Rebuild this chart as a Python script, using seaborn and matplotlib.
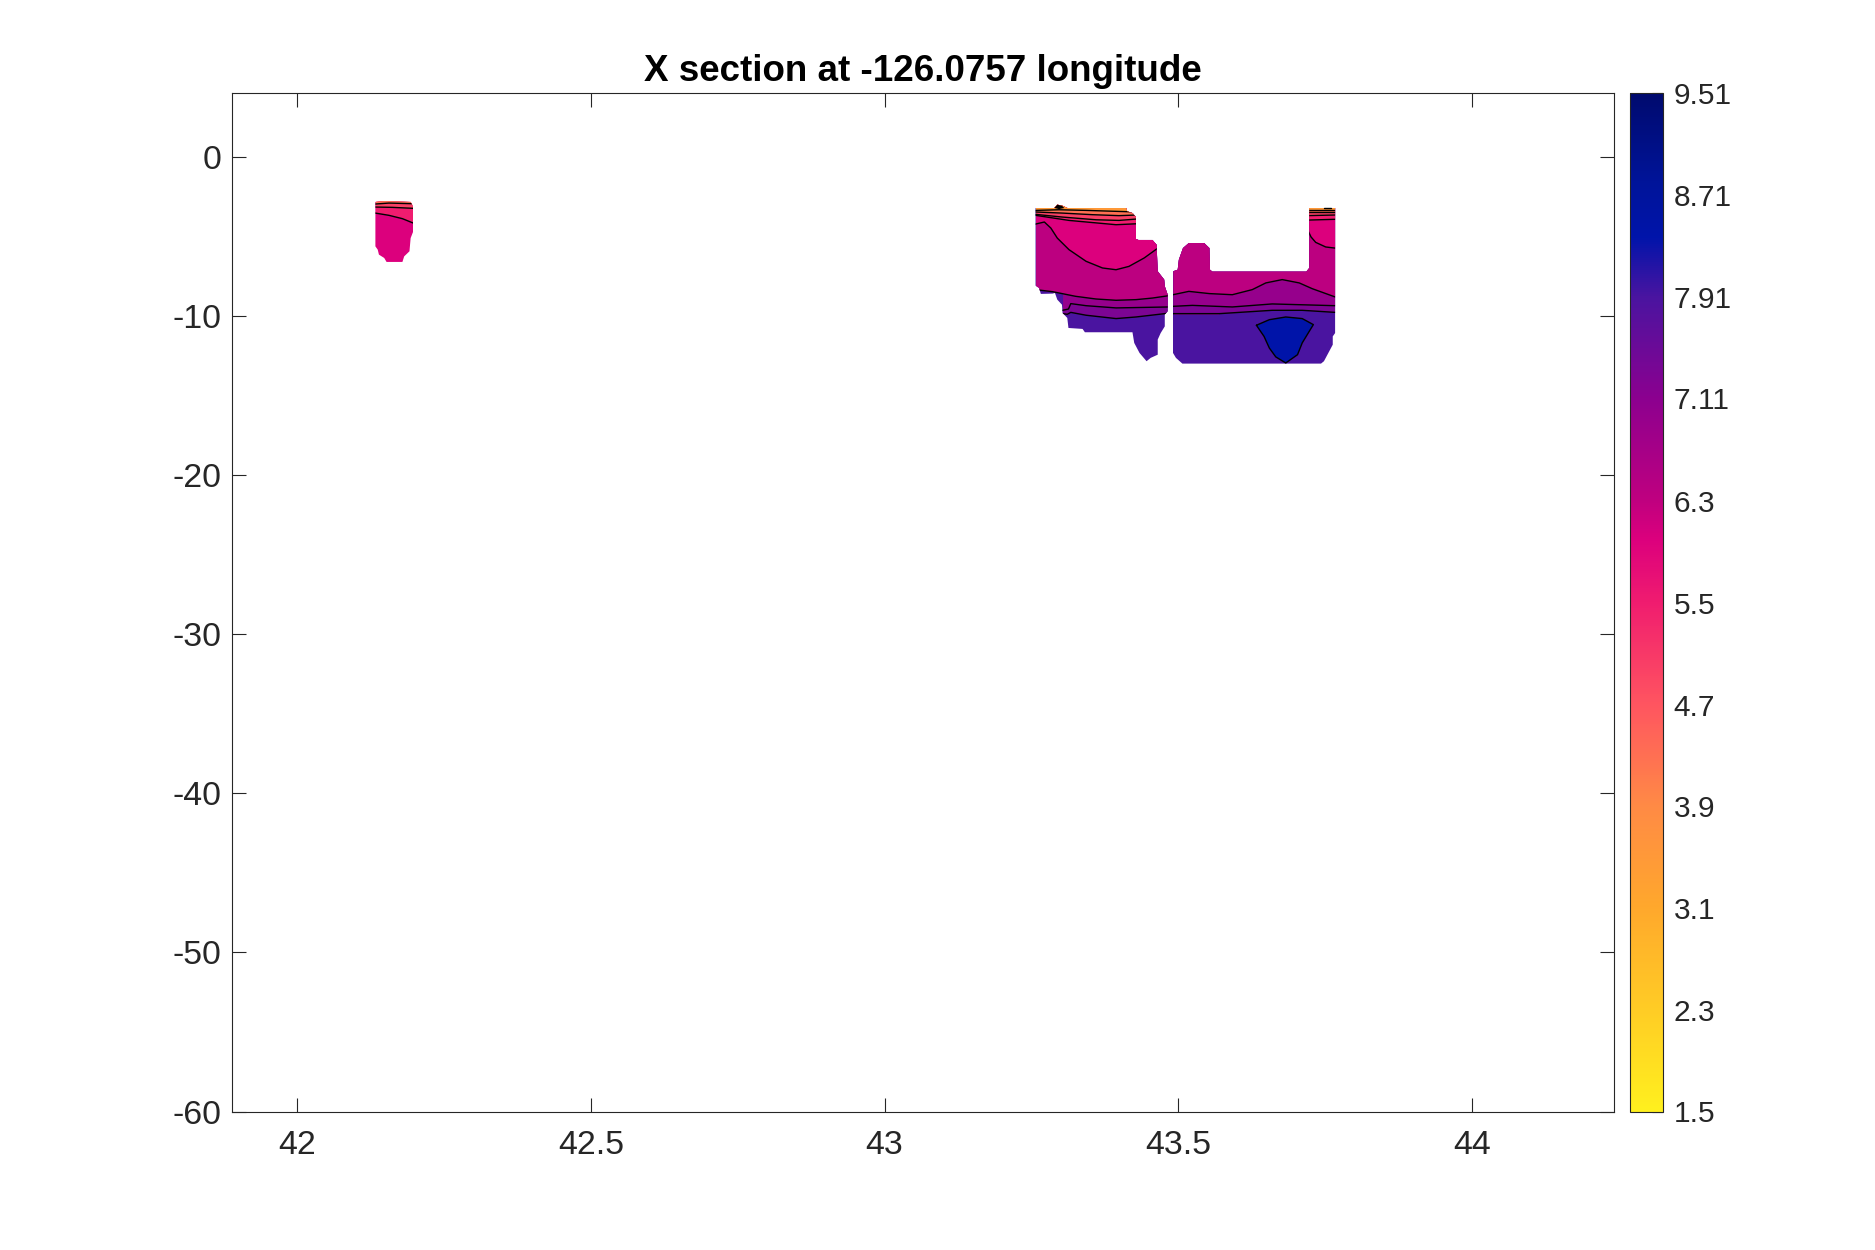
import matplotlib
matplotlib.use('Agg')
import matplotlib.pyplot as plt
import seaborn as sns
from matplotlib.cm import ScalarMappable
from matplotlib.colors import LinearSegmentedColormap, Normalize
from matplotlib.patches import Polygon

# colour scale
scale_values = [1.5, 3.1, 3.9, 4.7, 5.5, 6.0, 6.3, 7.11, 7.91, 8.38, 8.8, 9.51]
scale_colors = ['#FFF01E', '#FFA82C', '#FF8A45', '#FF5560', '#F01C6F', '#DC007D',
                '#C0007F', '#8C008F', '#4A14A0', '#0014AA', '#00149A', '#000A6E']
cbar_ticks = [1.5, 2.3, 3.1, 3.9, 4.7, 5.5, 6.3, 7.11, 7.91, 8.71, 9.51]
cbar_labels = ['1.5', '2.3', '3.1', '3.9', '4.7', '5.5', '6.3', '7.11', '7.91', '8.71', '9.51']

# outlines of the three patches (latitude, depth)
north_lat = [42.133, 42.148, 42.193, 42.197, 42.197, 42.193, 42.191, 42.182, 42.179,
             42.152, 42.148, 42.139, 42.137, 42.133]
north_depth = [-2.83, -2.77, -2.83, -3.11, -4.72, -5.10, -5.93, -6.25, -6.60,
               -6.60, -6.35, -6.14, -5.83, -5.62]

mid_lat = [43.257, 43.289, 43.294, 43.303, 43.311, 43.411, 43.413, 43.422, 43.428, 43.428,
           43.432, 43.456, 43.463, 43.465, 43.476, 43.477, 43.482, 43.482, 43.477, 43.477,
           43.470, 43.465, 43.465, 43.453, 43.446, 43.434, 43.425, 43.422, 43.341, 43.337,
           43.313, 43.311, 43.303, 43.302, 43.294, 43.290, 43.286, 43.266, 43.263, 43.257]
mid_depth = [-3.21, -3.21, -3.00, -3.07, -3.21, -3.21, -3.42, -3.53, -3.78, -5.16,
             -5.22, -5.22, -5.52, -7.19, -7.71, -8.13, -8.66, -9.70, -9.91, -10.65,
             -11.07, -11.48, -12.43, -12.63, -12.84, -12.32, -11.69, -11.02, -11.02, -10.81,
             -10.75, -10.12, -9.81, -9.29, -8.97, -8.55, -8.59, -8.61, -8.24, -8.09]

south_lat = [43.491, 43.499, 43.501, 43.508, 43.518, 43.544, 43.553, 43.554, 43.558, 43.718,
             43.723, 43.723, 43.767, 43.767, 43.763, 43.763, 43.748, 43.743, 43.507, 43.496, 43.491]
south_depth = [-7.19, -7.09, -6.46, -5.73, -5.41, -5.41, -5.73, -7.09, -7.21, -7.21,
               -6.98, -3.21, -3.21, -11.07, -11.28, -11.80, -12.84, -12.99, -12.99, -12.63, -12.32]

# contour lines, deepest first, with the value of the band just above each one
north_base = 6.0
north_bands = [5.5, 5.0, 4.3]
north_lines = [
    ([42.133, 42.156, 42.179, 42.197], [-3.53, -3.67, -3.88, -4.15]),
    ([42.133, 42.162, 42.197], [-3.15, -3.17, -3.23]),
    ([42.133, 42.156, 42.197], [-2.96, -2.90, -2.94]),
]

mid_base = 7.9
mid_bands = [7.3, 6.95, 6.35, 6.0, 5.5, 5.0, 4.3, 3.5]
mid_lines = [
    ([43.303, 43.311, 43.317, 43.343, 43.394, 43.428, 43.477, 43.484],
     [-9.85, -9.89, -9.77, -9.95, -10.16, -10.06, -9.85, -9.81]),
    ([43.303, 43.313, 43.317, 43.343, 43.394, 43.484], [-9.64, -9.56, -9.22, -9.35, -9.49, -9.43]),
    ([43.257, 43.286, 43.325, 43.360, 43.394, 43.428, 43.456, 43.484],
     [-8.34, -8.47, -8.76, -8.93, -9.01, -8.97, -8.87, -8.72]),
    ([43.257, 43.272, 43.283, 43.294, 43.314, 43.343, 43.371, 43.394, 43.416, 43.442, 43.463, 43.484],
     [-4.22, -4.09, -4.47, -5.10, -5.83, -6.56, -6.98, -7.09, -6.88, -6.35, -5.79, -5.30]),
    ([43.257, 43.314, 43.394, 43.430], [-3.67, -3.99, -4.26, -4.20]),
    ([43.257, 43.303, 43.360, 43.399, 43.430], [-3.61, -3.78, -3.95, -3.99, -3.90]),
    ([43.257, 43.303, 43.354, 43.399, 43.430], [-3.46, -3.53, -3.63, -3.69, -3.65]),
    ([43.257, 43.297, 43.343, 43.377, 43.430], [-3.36, -3.32, -3.36, -3.40, -3.46]),
]

south_base = 7.9
south_bands = [7.3, 6.95, 6.35, 6.0, 5.5, 5.0, 4.3, 3.5]
south_lines = [
    ([43.491, 43.570, 43.660, 43.711, 43.767], [-9.85, -9.85, -9.64, -9.64, -9.77]),
    ([43.491, 43.524, 43.592, 43.660, 43.767], [-9.39, -9.33, -9.43, -9.24, -9.35]),
    ([43.491, 43.518, 43.553, 43.592, 43.626, 43.649, 43.677, 43.706, 43.728, 43.767],
     [-8.66, -8.45, -8.59, -8.66, -8.34, -7.92, -7.71, -7.92, -8.28, -8.80]),
    ([43.720, 43.726, 43.734, 43.751, 43.767], [-4.57, -5.03, -5.37, -5.66, -5.73]),
    ([43.720, 43.767], [-3.97, -3.92]),
    ([43.720, 43.767], [-3.69, -3.65]),
    ([43.720, 43.767], [-3.46, -3.46]),
    ([43.720, 43.767], [-3.32, -3.32]),
]

# closed high value area and the tight contours near the surface
core_value = 8.4
core_lat = [43.633, 43.655, 43.683, 43.711, 43.730, 43.723, 43.711, 43.703, 43.683, 43.666, 43.655, 43.646]
core_depth = [-10.58, -10.23, -10.06, -10.16, -10.54, -10.96, -11.69, -12.43, -12.95, -12.57, -12.01, -11.28]
knot_lat = [43.289, 43.294, 43.302, 43.306, 43.297]
knot_depth = [-3.21, -3.00, -3.07, -3.21, -3.28]
dash_lat = [43.748, 43.760]
dash_depth = [-3.21, -3.21]

xticks = [42, 42.5, 43, 43.5, 44]
xtick_labels = ['42', '42.5', '43', '43.5', '44']
yticks = [-60, -50, -40, -30, -20, -10, 0]

W, H = 1875, 1250
INK = '#262626'

norm = Normalize(scale_values[0], scale_values[-1])
cmap = LinearSegmentedColormap.from_list(
    'section', [(norm(v), c) for v, c in zip(scale_values, scale_colors)], N=512)


def draw_line(ax, lat, depth, clip=None):
    sns.lineplot(x=lat, y=depth, sort=False, estimator=None, color='black',
                 linewidth=1.0, ax=ax, zorder=4)
    if clip is not None:
        ax.lines[-1].set_clip_path(clip)


def draw_patch(ax, lat, depth, base, bands, lines):
    # base colour first, then each band painted upward from its contour line
    clip = Polygon(list(zip(lat, depth)), closed=True, facecolor=cmap(norm(base)),
                   edgecolor='none', zorder=2)
    ax.add_patch(clip)
    for value, (line_lat, line_depth) in zip(bands, lines):
        band = ax.fill_between(line_lat, line_depth, 0, color=cmap(norm(value)),
                               linewidth=0, zorder=3)
        band.set_clip_path(clip)
    for line_lat, line_depth in lines:
        draw_line(ax, line_lat, line_depth, clip)


sns.set_theme(style='ticks')
plt.rcParams['font.family'] = ['Liberation Sans', 'DejaVu Sans']
plt.rcParams['axes.unicode_minus'] = False

fig = plt.figure(figsize=(W / 100, H / 100), dpi=100)
ax = fig.add_axes([231.5 / W, 1 - 1111.5 / H, 1382 / W, (1111.5 - 93.3) / H])
cax = fig.add_axes([1629.5 / W, 1 - 1111.5 / H, 33.5 / W, (1111.5 - 93.3) / H])

draw_patch(ax, north_lat, north_depth, north_base, north_bands, north_lines)
draw_patch(ax, mid_lat, mid_depth, mid_base, mid_bands, mid_lines)
draw_patch(ax, south_lat, south_depth, south_base, south_bands, south_lines)

ax.fill(core_lat, core_depth, color=cmap(norm(core_value)), linewidth=0, zorder=3.5)
draw_line(ax, core_lat + core_lat[:1], core_depth + core_depth[:1])
ax.fill(knot_lat, knot_depth, color='black', linewidth=0, zorder=5)
draw_line(ax, dash_lat, dash_depth)

ax.set_xlim(41.888, 44.241)
ax.set_ylim(-60, 4)
ax.set_xticks(xticks, xtick_labels)
ax.set_yticks(yticks)
ax.set_xlabel('')
ax.set_ylabel('')
ax.tick_params(direction='in', length=10, width=0.8, top=True, right=True, color=INK,
               labelcolor=INK, labelsize=24.4)
ax.tick_params(axis='x', pad=13)
ax.tick_params(axis='y', pad=7)
for spine in ax.spines.values():
    spine.set_linewidth(0.8)
    spine.set_color(INK)
ax.set_title('X section at -126.0757 longitude', fontsize=26.5, fontweight='bold',
             color='black', pad=9)

cbar = fig.colorbar(ScalarMappable(norm=norm, cmap=cmap), cax=cax)
cbar.set_ticks(cbar_ticks, labels=cbar_labels)
cbar.ax.tick_params(direction='in', length=8, width=0.8, color=INK, labelcolor=INK,
                    labelsize=21.5, pad=7.5)
cbar.outline.set_linewidth(0.8)
cbar.outline.set_edgecolor(INK)

fig.savefig('out.png', dpi=100)
